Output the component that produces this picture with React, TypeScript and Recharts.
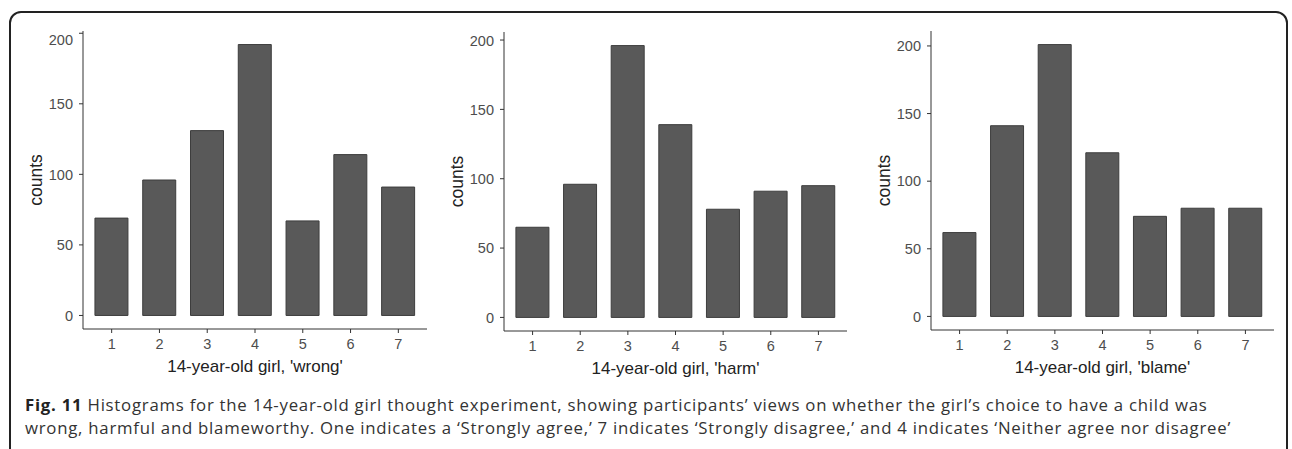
import { BarChart, Bar, XAxis, YAxis } from "recharts";

const categories = ["1", "2", "3", "4", "5", "6", "7"];
const wrongCounts = [69, 96, 131, 192, 67, 114, 91];
const harmCounts = [65, 96, 196, 139, 78, 91, 95];
const blameCounts = [62, 141, 201, 121, 74, 80, 80];
const yTicks = [0, 50, 100, 150, 200];

const axisLabels = [
  "14-year-old girl, 'wrong'",
  "14-year-old girl, 'harm'",
  "14-year-old girl, 'blame'",
];

const captionLine1 =
  " Histograms for the 14-year-old girl thought experiment, showing participants\u2019 views on whether the girl\u2019s choice to have a child was";
const captionLine2 =
  "wrong, harmful and blameworthy. One indicates a \u2018Strongly agree,\u2019 7 indicates \u2018Strongly disagree,\u2019 and 4 indicates \u2018Neither agree nor disagree\u2019";

const FONT = "'Liberation Sans', Arial, sans-serif";

type PanelProps = {
  values: number[];
  label: string;
  plotLeft: number;
  plotRight: number;
  plotTop: number;
  plotBottom: number;
};

function Panel({ values, label, plotLeft, plotRight, plotTop, plotBottom }: PanelProps) {
  const data = categories.map((c, i) => ({ k: c, v: values[i] }));
  const max = Math.max(...values);
  const yAxisW = 60;
  const xAxisH = 60;
  const plotW = plotRight - plotLeft;
  const pad = plotW / 72;

  return (
    <div style={{ position: "absolute", left: plotLeft - yAxisW, top: plotTop }}>
      <BarChart
        width={plotW + yAxisW}
        height={plotBottom - plotTop + xAxisH}
        data={data}
        margin={{ top: 0, right: 0, bottom: 0, left: 0 }}
        barCategoryGap="15%"
      >
        <XAxis
          dataKey="k"
          height={xAxisH}
          padding={{ left: pad, right: pad }}
          stroke="#333"
          tickSize={4}
          tickMargin={6}
          tick={{ fill: "#4d4d4d", fontSize: 14.5, fontFamily: FONT }}
          label={{
            value: label,
            position: "insideBottom",
            offset: 17,
            fill: "#222",
            fontSize: 17,
            fontFamily: FONT,
          }}
        />
        <YAxis
          width={yAxisW}
          domain={[-0.05 * max, 1.05 * max]}
          ticks={yTicks}
          stroke="#333"
          tickSize={4}
          tickMargin={6}
          tick={{ fill: "#4d4d4d", fontSize: 14.5, fontFamily: FONT }}
          label={{
            value: "counts",
            angle: -90,
            position: "center",
            dx: -17,
            fill: "#222",
            fontSize: 17.5,
            fontFamily: FONT,
          }}
        />
        <Bar dataKey="v" fill="#595959" stroke="#3d3d3d" strokeWidth={1} isAnimationActive={false} />
      </BarChart>
    </div>
  );
}

export default function App() {
  return (
    <div
      style={{
        position: "absolute",
        left: 0,
        top: 0,
        width: 1292,
        height: 449,
        overflow: "hidden",
        background: "#fff",
      }}
    >
      <div
        style={{
          position: "absolute",
          left: 9,
          top: 11,
          width: 1279,
          height: 470,
          border: "2px solid #222",
          borderRadius: 12,
          boxSizing: "border-box",
        }}
      />
      <Panel values={wrongCounts} label={axisLabels[0]} plotLeft={83} plotRight={427} plotTop={31} plotBottom={329} />
      <Panel values={harmCounts} label={axisLabels[1]} plotLeft={504} plotRight={847} plotTop={32} plotBottom={331} />
      <Panel values={blameCounts} label={axisLabels[2]} plotLeft={931} plotRight={1274} plotTop={31} plotBottom={330} />
      <div
        style={{
          position: "absolute",
          left: 25,
          top: 393,
          fontFamily: "'Open Sans', 'Noto Sans', sans-serif",
          fontSize: 16.8,
          letterSpacing: 0.75,
          lineHeight: "23px",
          color: "#333",
          whiteSpace: "nowrap",
        }}
      >
        <div>
          <b style={{ color: "#222" }}>Fig. 11</b>
          {captionLine1}
        </div>
        <div>{captionLine2}</div>
      </div>
    </div>
  );
}
